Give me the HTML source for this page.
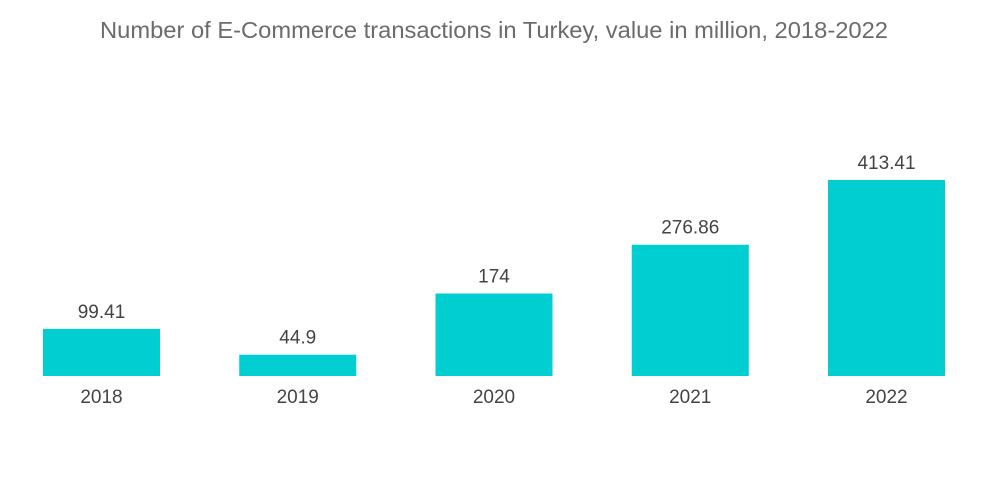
<!DOCTYPE html>
<html><head><meta charset="utf-8"><style>
html,body{margin:0;padding:0;background:#fff;}
svg{display:block;font-family:"Liberation Sans",sans-serif;}
</style></head><body>
<svg id="chart" width="1000" height="504">
<text x="494" y="38" text-anchor="middle" font-size="23" textLength="788" lengthAdjust="spacingAndGlyphs" fill="#6b6b6b">Number of E-Commerce transactions in Turkey, value in million, 2018-2022</text>
<g id="bars"></g>
</svg>
<script>
const categories = ["2018","2019","2020","2021","2022"];
const values = [99.41, 44.9, 174, 276.86, 413.41];
const valueLabels = ["99.41","44.9","174","276.86","413.41"];
const baseY = 376, pxPerUnit = 196/413.41, firstCenter = 101.5, step = 196.25, barW = 117;
const yScale = v => baseY - v*pxPerUnit;
const xScale = i => firstCenter + i*step;
const g = document.getElementById('bars');
const NS = 'http://www.w3.org/2000/svg';
categories.forEach((c,i)=>{
  const y = yScale(values[i]);
  const r = document.createElementNS(NS,'rect');
  r.setAttribute('x', xScale(i)-barW/2);
  r.setAttribute('y', y);
  r.setAttribute('width', barW);
  r.setAttribute('height', baseY-y);
  r.setAttribute('fill', '#00ced1');
  
  
  g.appendChild(r);
  const t = document.createElementNS(NS,'text');
  t.setAttribute('x', xScale(i));
  t.setAttribute('y', y-11);
  t.setAttribute('text-anchor','middle');
  t.setAttribute('font-size','19');
  t.setAttribute('fill','#444');
  t.textContent = valueLabels[i];
  
  
  g.appendChild(t);
  const l = document.createElementNS(NS,'text');
  l.setAttribute('x', xScale(i));
  l.setAttribute('y', 403);
  l.setAttribute('text-anchor','middle');
  l.setAttribute('font-size','19');
  l.setAttribute('fill','#444');
  l.textContent = c;
  
  
  g.appendChild(l);
});
</script>
</body></html>
